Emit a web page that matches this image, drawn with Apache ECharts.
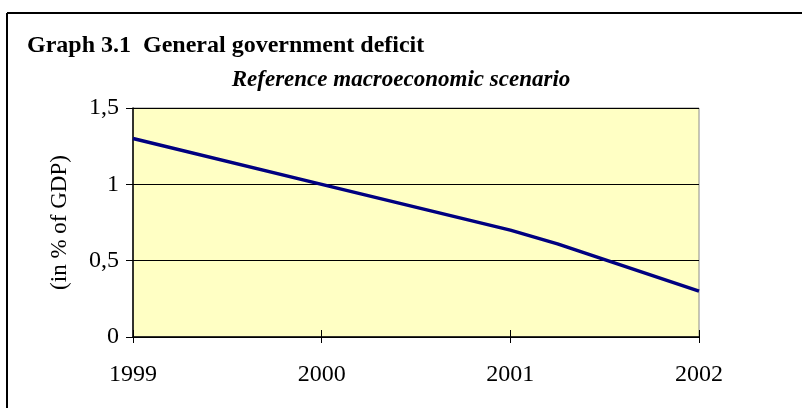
<!DOCTYPE html>
<html>
<head>
<meta charset="utf-8">
<script src="https://cdn.jsdelivr.net/npm/echarts@6/dist/echarts.min.js"></script>
<style>
  html, body { margin: 0; padding: 0; background: #ffffff; }
  #chart { width: 802px; height: 408px; }
</style>
</head>
<body>
<div id="chart"></div>
<script>
// General government deficit, reference macroeconomic scenario (in % of GDP)
const years = [1999, 2000, 2001, 2001.25, 2002];
const deficit = [1.3, 1.0, 0.7, 0.61, 0.3];
const yearTicks = [1999, 2000, 2001, 2002];
const valueTicks = [0, 0.5, 1, 1.5];

const titleText = 'Graph 3.1  General government deficit';
const subtitleText = 'Reference macroeconomic scenario';
const yAxisName = '(in % of GDP)';

const serif = '"Liberation Serif", "Times New Roman", serif';

const chart = echarts.init(document.getElementById('chart'), null, { renderer: 'canvas' });

const xRange = { min: yearTicks[0], max: yearTicks[yearTicks.length - 1], interval: 1 };
const yRange = { min: valueTicks[0], max: valueTicks[valueTicks.length - 1], interval: 0.5 };

chart.setOption({
  backgroundColor: '#ffffff',
  animation: false,
  title: [
    {
      text: titleText,
      left: 22, top: 29,
      textStyle: { fontFamily: serif, fontWeight: 'bold', fontSize: 24, color: '#000' }
    },
    {
      text: subtitleText,
      left: 'center', top: 64,
      textStyle: { fontFamily: serif, fontWeight: 'bold', fontStyle: 'italic', fontSize: 23, color: '#000' }
    }
  ],
  graphic: [
    { type: 'line', shape: { x1: 7, y1: 13, x2: 802, y2: 13 }, style: { stroke: '#000', lineWidth: 2 } },
    { type: 'line', shape: { x1: 7, y1: 13, x2: 7, y2: 408 }, style: { stroke: '#000', lineWidth: 2 } }
  ],
  grid: {
    left: 133, right: 103, top: 108, bottom: 71,
    show: true,
    backgroundColor: '#FFFFC4',
    borderColor: '#8c8c8c',
    borderWidth: 1
  },
  xAxis: [
    {
      type: 'value', ...xRange,
      axisLine: { show: true, lineStyle: { color: '#000', width: 1.5 } },
      axisTick: { show: true, length: 6, lineStyle: { color: '#000' } },
      splitLine: { show: false },
      axisLabel: {
        margin: 26,
        fontFamily: serif, fontSize: 24, color: '#000',
        formatter: v => String(v)
      }
    },
    {
      // inner half of the crossing tick marks
      type: 'value', ...xRange, position: 'bottom',
      axisLine: { show: false },
      axisTick: { show: true, inside: true, length: 7, lineStyle: { color: '#000' } },
      axisLabel: { show: false },
      splitLine: { show: false }
    }
  ],
  yAxis: [
    {
      type: 'value', ...yRange,
      name: yAxisName,
      nameLocation: 'middle',
      nameGap: 62,
      nameRotate: 90,
      nameTextStyle: { fontFamily: serif, fontSize: 23, color: '#000' },
      axisLine: { show: true, lineStyle: { color: '#000', width: 1.5 } },
      axisTick: { show: true, length: 7, lineStyle: { color: '#000' } },
      splitLine: { show: true, lineStyle: { color: '#000', width: 1 } },
      axisLabel: {
        margin: 14,
        fontFamily: serif, fontSize: 24, color: '#000',
        formatter: v => String(v).replace('.', ',')
      }
    },
    {
      type: 'value', ...yRange, position: 'left',
      axisLine: { show: false },
      axisTick: { show: true, inside: true, length: 5, lineStyle: { color: '#000' } },
      axisLabel: { show: false },
      splitLine: { show: false }
    }
  ],
  series: [
    {
      type: 'line',
      xAxisIndex: 0,
      yAxisIndex: 0,
      data: years.map((y, i) => [y, deficit[i]]),
      symbol: 'none',
      lineStyle: { color: '#000080', width: 3.5 },
      z: 5
    }
  ]
});
</script>
</body>
</html>
